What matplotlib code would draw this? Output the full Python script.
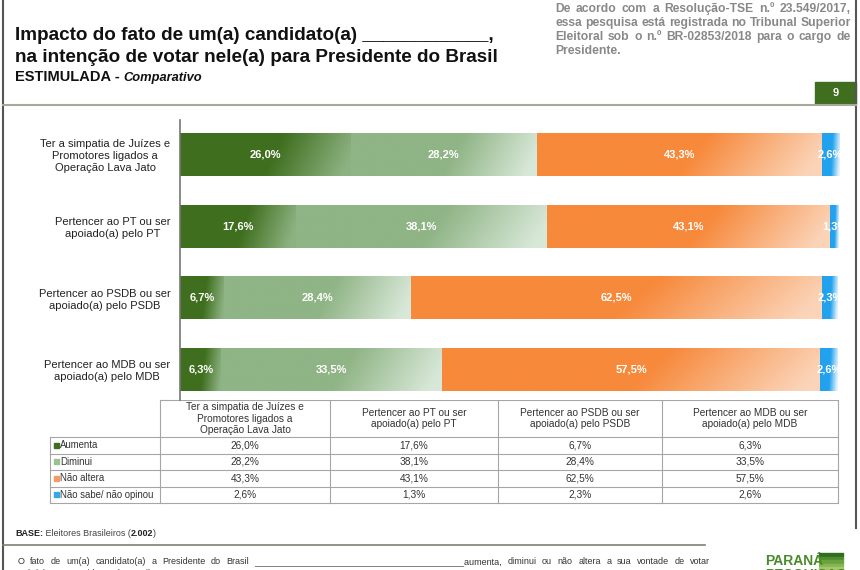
import matplotlib.pyplot as plt
import numpy as np
from matplotlib.colors import to_rgb

plt.rcParams['font.family'] = ['Liberation Sans', 'DejaVu Sans']
NARROW = ['Liberation Sans Narrow', 'Liberation Sans', 'DejaVu Sans']

# data
categories = [
    "Ter a simpatia de Juízes e\nPromotores ligados a\nOperação Lava Jato",
    "Pertencer ao PT ou ser\napoiado(a) pelo PT",
    "Pertencer ao PSDB ou ser\napoiado(a) pelo PSDB",
    "Pertencer ao MDB ou ser\napoiado(a) pelo MDB",
]
series_names = ["Aumenta", "Diminui", "Não altera", "Não sabe/ não opinou"]
aumenta = [26.0, 17.6, 6.7, 6.3]
diminui = [28.2, 38.1, 28.4, 33.5]
nao_altera = [43.3, 43.1, 62.5, 57.5]
nao_sabe = [2.6, 1.3, 2.3, 2.6]
series = [aumenta, diminui, nao_altera, nao_sabe]

start_colors = ['#3f6f1e', '#8fb485', '#f7893b', '#22a2ee']
end_colors = ['#8db282', '#d8e8d8', '#fbd4b8', '#e6f4fd']
legend_colors = ['#3f6f1e', '#9cc092', '#f59a62', '#35a8e8']


def fmt(v):
    return f"{v:.1f}%".replace('.', ',')


def gradient(c0, c1, n=120, m=20):
    u = np.linspace(0, 1, n)[None, :]
    v = np.linspace(0, 1, m)[:, None]
    t = np.clip((u - 0.55) / 0.45 + 0.25 * (v - 0.5), 0, 1)
    a, b = np.array(to_rgb(c0)), np.array(to_rgb(c1))
    return a + (b - a) * t[..., None]


fig = plt.figure(figsize=(8.6, 5.7), dpi=100)
bg = fig.add_axes([0, 0, 1, 1])
bg.set_xlim(0, 860)
bg.set_ylim(570, 0)
bg.axis('off')


def px_axes(x0, y0, x1, y1):
    return fig.add_axes([x0 / 860, 1 - y1 / 570, (x1 - x0) / 860, (y1 - y0) / 570])


def justify(text, x0, x1, y, **kw):
    words = text.split()
    objs = [bg.text(0, y, w, **kw) for w in words]
    r = fig.canvas.get_renderer()
    widths = [o.get_window_extent(r).width for o in objs]
    gap = (x1 - x0 - sum(widths)) / max(len(words) - 1, 1)
    x = x0
    for o, w in zip(objs, widths):
        o.set_x(x)
        x += w + gap


# frame of the slide
bg.plot([3, 3], [0, 570], color='#555555', lw=1.5)
bg.plot([856, 856], [0, 528], color='#555555', lw=1.5)
bg.plot([3, 856], [105, 105], color='#a8a898', lw=1.5)
bg.add_patch(plt.Rectangle((815, 82), 41, 22, color='#3f6e1f'))
bg.text(835.5, 93, "9", color='white', fontweight='bold', fontsize=8, ha='center', va='center')

# titles
bg.text(15, 35, "Impacto do fato de um(a) candidato(a) ____________,", fontsize=13.6,
        fontweight='bold', va='center', color='#111111')
bg.text(15, 58, "na intenção de votar nele(a) para Presidente do Brasil", fontsize=13.6,
        fontweight='bold', va='center', color='#111111')
t = bg.text(15, 77, "ESTIMULADA - ", fontsize=10.5, fontweight='bold', va='center', color='#111111')
bg.annotate("Comparativo", xy=(1, 0), xycoords=t, va='bottom', fontsize=9.3,
            fontweight='bold', fontstyle='italic', color='#111111')

note = ["De acordo com a Resolução-TSE n.º 23.549/2017,",
        "essa pesquisa está registrada no Tribunal Superior",
        "Eleitoral sob o n.º BR-02853/2018 para o cargo de"]
for i, line in enumerate(note):
    justify(line, 555, 851, 9 + 14 * i, fontsize=8.7, fontweight='bold', color='#888888', va='center')
bg.text(555, 51, "Presidente.", fontsize=8.7, fontweight='bold', color='#888888', va='center')

# stacked bars
ax = px_axes(180, 120, 838, 400)
y = np.arange(len(categories))
left = np.zeros(len(categories))
for vals, c0, c1 in zip(series, start_colors, end_colors):
    bars = ax.barh(y, vals, left=left, height=0.6, color=c0, edgecolor='none')
    for bar, v in zip(bars, vals):
        x0, w = bar.get_x(), bar.get_width()
        y0, h = bar.get_y(), bar.get_height()
        im = ax.imshow(gradient(c0, c1), extent=(x0, x0 + w, y0 + h, y0),
                       aspect='auto', interpolation='bilinear', zorder=2)
        im.set_clip_path(bar)
        ax.text(x0 + w / 2, y0 + h / 2, fmt(v), ha='center', va='center',
                color='white', fontweight='bold', fontsize=8, zorder=3)
    left += np.array(vals)

ax.set_xlim(0, 100)
ax.set_ylim(3.426, -0.481)
ax.set_xticks([])
ax.set_yticks(y, categories, fontsize=8, linespacing=1.25, multialignment='center', color='#222222')
ax.tick_params(axis='y', length=0, pad=7)
for s in ['top', 'right', 'bottom']:
    ax.spines[s].set_visible(False)
ax.spines['left'].set_color('#777777')
ax.spines['left'].set_linewidth(1.2)

# data table
col_x = [50, 160, 330, 498, 662, 838]
row_y = [437, 453.5, 470, 486.5, 503]
lc, lw = '#a6a6a6', 0.8
bg.plot([col_x[1], col_x[-1]], [400, 400], color=lc, lw=lw)
for cx in col_x[1:]:
    bg.plot([cx, cx], [400, row_y[-1]], color=lc, lw=lw)
bg.plot([col_x[0], col_x[0]], [row_y[0], row_y[-1]], color=lc, lw=lw)
for ry in row_y:
    bg.plot([col_x[0], col_x[-1]], [ry, ry], color=lc, lw=lw)

for j, cat in enumerate(categories):
    bg.text((col_x[j + 1] + col_x[j + 2]) / 2, 418.5, cat, ha='center', va='center',
            fontsize=7.3, linespacing=1.15, family=NARROW, color='#333333')
for i, (name, vals, lcol) in enumerate(zip(series_names, series, legend_colors)):
    yc = (row_y[i] + row_y[i + 1]) / 2
    bg.add_patch(plt.Rectangle((54, yc - 2.5), 5, 5, color=lcol))
    bg.text(60, yc, name, va='center', fontsize=6.9, family=NARROW, color='#333333')
    for j, v in enumerate(vals):
        bg.text((col_x[j + 1] + col_x[j + 2]) / 2, yc, fmt(v), ha='center', va='center',
                fontsize=7.3, family=NARROW, color='#333333')

# footer
t = bg.text(15, 533, "BASE:", fontsize=6.5, fontweight='bold', va='center', family=NARROW, color='#222222')
t = bg.annotate(" Eleitores Brasileiros (", xy=(1, 0), xycoords=t, va='bottom',
                fontsize=6.5, family=NARROW, color='#444444')
t = bg.annotate("2.002", xy=(1, 0), xycoords=t, va='bottom', fontsize=6.5,
                fontweight='bold', family=NARROW, color='#222222')
bg.annotate(")", xy=(1, 0), xycoords=t, va='bottom', fontsize=6.5, family=NARROW, color='#444444')
bg.plot([3, 705], [545, 545], color='#808070', lw=1.2)

justify("O fato de um(a) candidato(a) a Presidente do Brasil "
        "__________________________________________aumenta, diminui ou não altera a sua vontade de votar",
        18, 710, 562, fontsize=6.5, family=NARROW, color='#333333', va='center')
bg.text(18, 574, "nele(a) para Presidente do Brasil?", fontsize=6.5, family=NARROW,
        color='#333333', va='center')

# logo
bg.text(765, 561, "PARANÁ", fontsize=10, fontweight='bold', color='#4a8a2c', va='center', family=NARROW)
bg.text(765, 575, "PESQUISAS", fontsize=10, fontweight='bold', color='#4a8a2c', va='center', family=NARROW)
for k, sc in enumerate(['#2f6e1a', '#4c8c2c', '#6aa23e', '#86b552', '#a3c86a']):
    bg.add_patch(plt.Rectangle((819, 553 + k * 3.6), 24, 2.6, color=sc))

fig.savefig('out.png', dpi=100)
